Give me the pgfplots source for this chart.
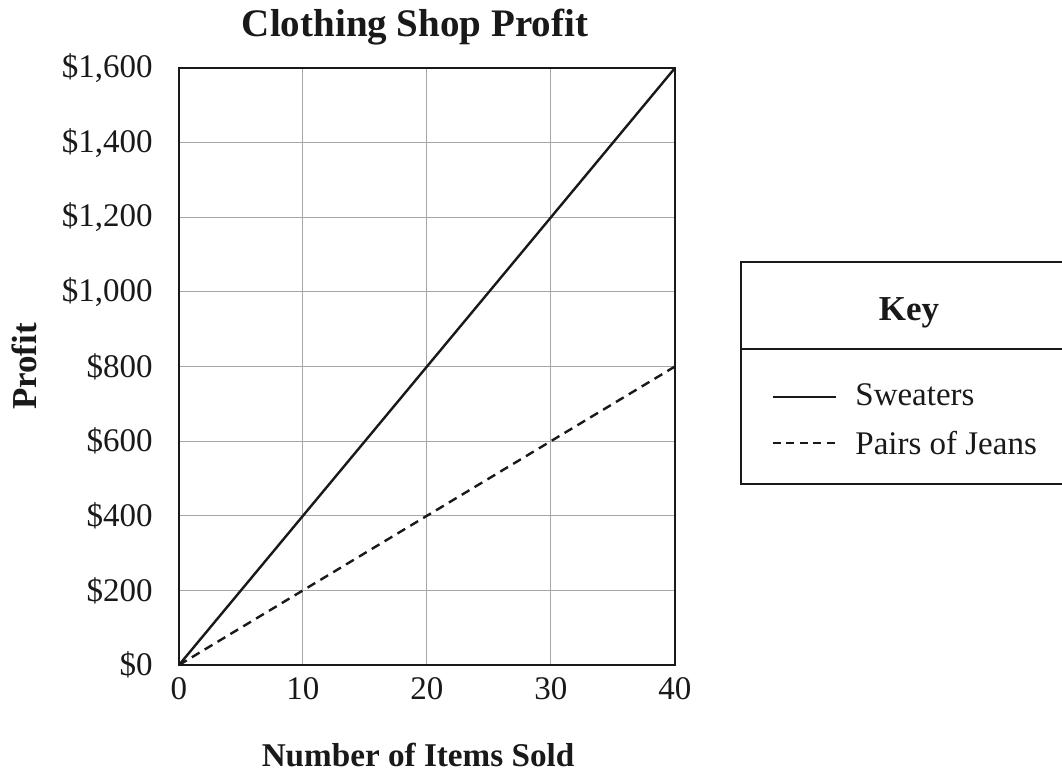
\documentclass[border=0pt]{standalone}
\usepackage{pgfplots}
\pgfplotsset{compat=1.18}
\usepackage{fontspec}
\setmainfont{Liberation Serif}
\begin{document}
\begin{tikzpicture}[x=0.5pt,y=0.5pt]
\useasboundingbox (0,0) rectangle (1062,774);
\begin{axis}[
  at={(89.5pt,54.5pt)}, anchor=south west,
  scale only axis, width=248pt, height=298.5pt,
  xmin=0, xmax=40, ymin=0, ymax=1600,
  xtick={0,10,20,30,40}, xticklabels={0,10,20,30,40},
  ytick={0,200,400,600,800,1000,1200,1400,1600},
  yticklabels={\$0,\$200,\$400,\$600,\$800,{\$1,000},{\$1,200},{\$1,400},{\$1,600}},
  major tick length=0pt,
  grid=major,
  grid style={gray!70, line width=0.5pt},
  axis line style={line width=1.4pt, black!90},
  ticklabel style={font=\fontsize{16.5}{19}\selectfont, text=black!90},
  yticklabel style={inner sep=0pt, xshift=-13pt},
  xticklabel style={inner sep=0pt, yshift=-6pt},
  xlabel={Number of Items Sold},
  xlabel style={font=\fontsize{16.6}{20}\bfseries, at={(axis description cs:0.482,-0.150)}, anchor=center, inner sep=0pt, text=black!90},
  ylabel={Profit},
  ylabel style={font=\fontsize{17.5}{21}\bfseries, at={(axis description cs:-0.3125,0.5)}, anchor=center, rotate=0, inner sep=0pt, text=black!90},
]
\addplot[black!90, line width=1.2pt] coordinates {(0,0) (40,1600)};
\addplot[black!90, line width=1.2pt, dash pattern=on 4.5pt off 3pt] coordinates {(0,0) (40,800)};
\end{axis}
\node[font=\fontsize{19.5}{23}\bfseries, text=black!90, inner sep=0pt] at (415,747) {Clothing Shop Profit};
% Key box
\draw[black!90, line width=1.3pt] (1070,512) -- (741,512) -- (741,290) -- (1070,290);
\draw[black!90, line width=1.1pt] (741,425) -- (1070,425);
\node[font=\fontsize{17.5}{21}\bfseries, text=black!90, inner sep=0pt] at (909,461) {Key};
\draw[black!90, line width=1pt] (773,377) -- (836,377);
\draw[black!90, line width=1pt, dash pattern=on 4pt off 2.7pt] (773,331) -- (836,331);
\node[anchor=west, inner sep=0pt, font=\fontsize{16.5}{19}\selectfont, text=black!90] at (855,379) {Sweaters};
\node[anchor=west, inner sep=0pt, font=\fontsize{16.5}{19}\selectfont, text=black!90] at (855,331) {Pairs of Jeans};
\end{tikzpicture}
\end{document}
